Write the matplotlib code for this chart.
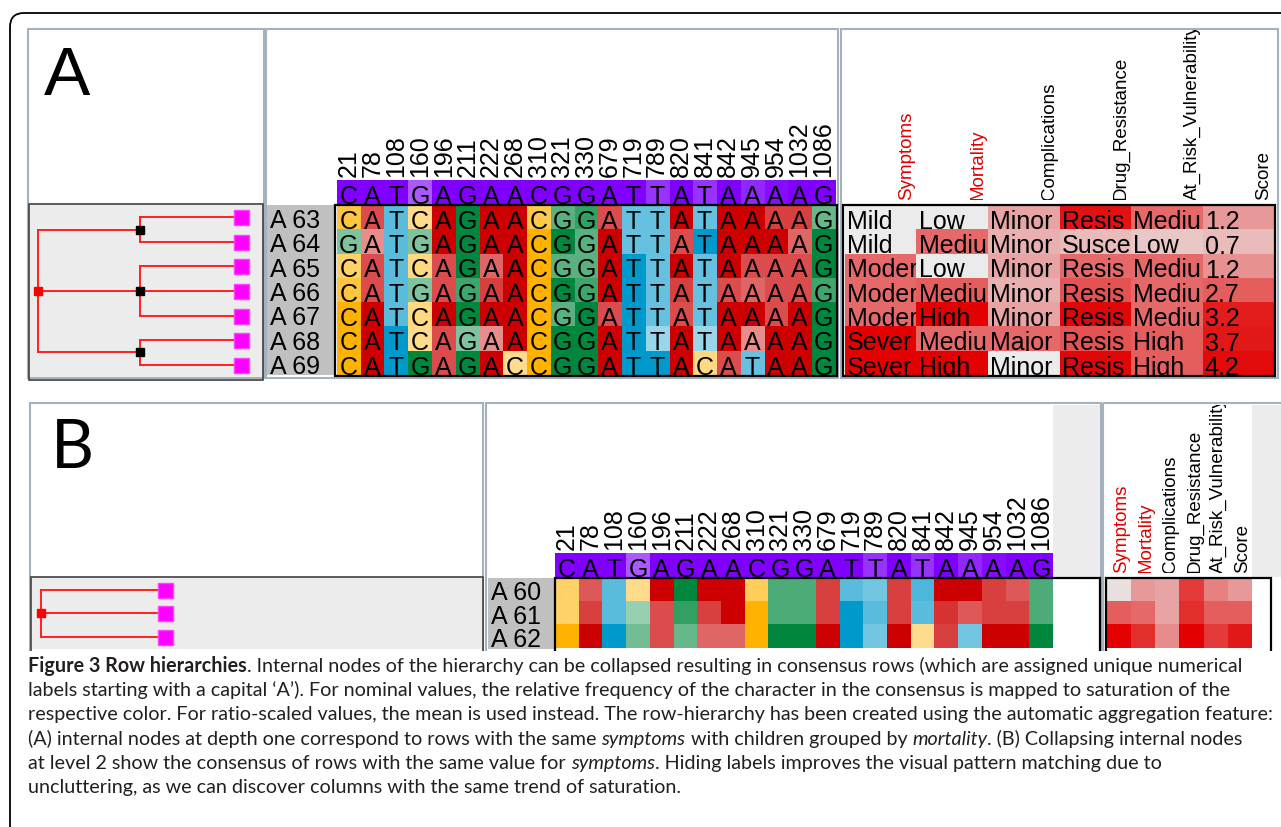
import numpy as np
import matplotlib

matplotlib.use("Agg")
import matplotlib.pyplot as plt
from matplotlib.colors import to_rgb
from matplotlib.patches import FancyBboxPatch, Rectangle

W, H = 1281, 827

# column headers (SNP positions) and the consensus sequence
positions = ["21", "78", "108", "160", "196", "211", "222", "268", "310", "321", "330",
             "679", "719", "789", "820", "841", "842", "945", "954", "1032", "1086"]
consensus_seq = "CATGAGAACGGATTATAAAAG"
consensus_sat = [1, 1, 1, 0.65, 1, 1, 1, 1, 1, 1, 1, 1, 1, 0.8, 1, 0.8, 1, 0.85, 0.95, 1, 1]

# panel A rows
rows_a = ["A 63", "A 64", "A 65", "A 66", "A 67", "A 68", "A 69"]
seq_a = [
    "CATCAGAACGGATTATAAAAG",
    "GATGAGAACGGATTATAAAAG",
    "CATCAGAACGGATTATAAAAG",
    "CATGAGAACGGATTATAAAAG",
    "CATCAGAACGGATTATAAAAG",
    "CATCAGAACGGATTATAAAAG",
    "CATGAGACCGGATTACATAAG",
]
sat_a = [
    [0.75, 0.7, 0.65, 0.45, 1, 1, 1, 1, 0.7, 0.65, 0.8, 0.7, 0.6, 0.6, 1, 0.6, 1, 1, 0.75, 0.75, 0.6],
    [0.5, 0.45, 0.65, 0.5, 1, 1, 1, 1, 1, 1, 0.65, 1, 0.6, 0.6, 0.7, 1, 1, 1, 1, 0.6, 1],
    [0.6, 0.7, 0.65, 0.5, 0.7, 1, 0.6, 1, 1, 0.65, 0.65, 1, 1, 0.6, 1, 0.6, 1, 0.7, 0.7, 0.7, 1],
    [0.75, 0.7, 0.65, 0.5, 0.7, 0.75, 0.75, 1, 1, 1, 0.75, 1, 1, 0.6, 0.75, 0.6, 0.7, 0.6, 0.7, 0.7, 0.75],
    [1, 1, 0.65, 0.5, 1, 1, 1, 1, 1, 0.65, 1, 0.7, 1, 0.6, 0.7, 0.6, 1, 1, 0.7, 1, 1],
    [1, 1, 1, 0.45, 0.7, 0.5, 0.45, 1, 1, 1, 1, 1, 1, 0.4, 1, 0.4, 1, 0.45, 1, 1, 1],
    [1, 1, 1, 1, 0.7, 1, 1, 0.45, 1, 1, 1, 1, 1, 1, 1, 0.5, 0.7, 0.6, 1, 1, 1],
]
tree_a = [[0, 1], [2, 3, 4], [5, 6]]

# panel B (collapsed consensus rows)
rows_b = ["A 60", "A 61", "A 62"]
seq_b = [
    "CATCAGAACGGATTATAAAAG",
    "CATGAGAACGGATTATAAAAG",
    "CATGAGAACGGATTACATAAG",
]
sat_b = [
    [0.6, 0.65, 0.65, 0.45, 1, 1, 1, 1, 0.65, 0.7, 0.7, 0.75, 0.65, 0.55, 0.75, 0.7, 1, 1, 0.75, 0.65, 0.7],
    [0.6, 0.75, 0.65, 0.4, 0.7, 0.8, 0.75, 1, 1, 0.7, 0.7, 0.75, 1, 0.65, 0.75, 0.65, 0.8, 0.65, 0.75, 0.75, 0.7],
    [1, 1, 1, 0.55, 0.7, 0.6, 0.6, 0.6, 1, 1, 1, 1, 1, 0.55, 1, 0.45, 0.75, 0.55, 1, 1, 1],
]
tree_b = [0, 1, 2]

# attribute table
attr_names = ["Symptoms", "Mortality", "Complications", "Drug_Resistance",
              "At_Risk_Vulnerability", "Score"]
attr_hier = ["Symptoms", "Mortality"]
attr_text_a = [
    ["Mild", "Low", "Minor", "Resis", "Mediu", "1,2"],
    ["Mild", "Mediu", "Minor", "Susce", "Low", "0,7"],
    ["Moder", "Low", "Minor", "Resis", "Mediu", "1,2"],
    ["Moder", "Mediu", "Minor", "Resis", "Mediu", "2,7"],
    ["Moder", "High", "Minor", "Resis", "Mediu", "3,2"],
    ["Sever", "Mediu", "Major", "Resis", "High", "3,7"],
    ["Sever", "High", "Minor", "Resis", "High", "4,2"],
]
attr_sat_a = [
    [0.0, 0.0, 0.3, 0.92, 0.55, 0.35],
    [0.0, 0.55, 0.25, 0.2, 0.15, 0.2],
    [0.55, 0.0, 0.3, 0.55, 0.55, 0.38],
    [0.55, 0.6, 0.25, 0.65, 0.55, 0.6],
    [0.55, 1.0, 0.3, 0.97, 0.55, 0.88],
    [1.0, 0.55, 0.55, 0.65, 0.6, 0.9],
    [1.0, 1.0, 0.0, 0.97, 0.6, 0.95],
]
attr_sat_b = [
    [0.05, 0.35, 0.3, 0.75, 0.45, 0.35],
    [0.6, 0.55, 0.3, 0.8, 0.6, 0.6],
    [1.0, 0.8, 0.4, 1.0, 0.75, 0.9],
]

caption_lines = [
    [("Figure 3 Row hierarchies", "bold"),
     (". Internal nodes of the hierarchy can be collapsed resulting in consensus rows "
      "(which are assigned unique numerical", "normal")],
    [("labels starting with a capital \u2018A\u2019). For nominal values, the relative frequency "
      "of the character in the consensus is mapped to saturation of the", "normal")],
    [("respective color. For ratio-scaled values, the mean is used instead. The row-hierarchy "
      "has been created using the automatic aggregation feature:", "normal")],
    [("(A) internal nodes at depth one correspond to rows with the same ", "normal"),
     ("symptoms", "italic"), (" with children grouped by ", "normal"),
     ("mortality", "italic"), (". (B) Collapsing internal nodes", "normal")],
    [("at level 2 show the consensus of rows with the same value for ", "normal"),
     ("symptoms", "italic"), (". Hiding labels improves the visual pattern matching due to", "normal")],
    [("uncluttering, as we can discover columns with the same trend of saturation.", "normal")],
]
# right end of each caption line in the reference (pixels)
caption_ends = [1275, 1224, 1270, 1261, 1162, 657]

NUC_BASE = {"A": "#cc0000", "C": "#ffb300", "G": "#00873d", "T": "#0099cc"}
CONS_BASE = "#7f00ff"
ATTR_LOW, ATTR_HIGH = "#ebebeb", "#e20000"
FRAME = "#a4b2c0"
RED_LINE = "#ff2020"
CELL_FS = 18

plt.rcParams["font.family"] = ["Liberation Sans", "DejaVu Sans"]


def tint(color, s):
    rgb = np.array(to_rgb(color))
    return 1.0 - s * (1.0 - rgb)


def nuc_image(seqs, sats):
    return np.array([[tint(NUC_BASE[ch], s) for ch, s in zip(seq, row)]
                     for seq, row in zip(seqs, sats)])


def attr_image(sats):
    lo = np.array(to_rgb(ATTR_LOW))
    hi = np.array(to_rgb(ATTR_HIGH))
    return np.array([[lo + s * (hi - lo) for s in row] for row in sats])


def px_axes(fig, x0, y0, x1, y1, zorder=1):
    ax = fig.add_axes((x0 / W, 1 - y1 / H, (x1 - x0) / W, (y1 - y0) / H))
    ax.set_zorder(zorder)
    return ax


def draw_cells(ax, img, texts=None, fontsize=CELL_FS, centered=True):
    n, m = img.shape[:2]
    ax.imshow(img, extent=(0, m, n, 0), aspect="auto", interpolation="nearest")
    ax.set_xlim(0, m)
    ax.set_ylim(n, 0)
    if texts is None:
        return
    for i, row in enumerate(texts):
        for j, s in enumerate(row):
            x = j + 0.5 if centered else j + 0.03
            t = ax.text(x, i + 0.98, s, ha="center" if centered else "left",
                        va="baseline", fontsize=fontsize, clip_on=True)
            t.set_clip_path(Rectangle((j, i), 1, 1, transform=ax.transData))


def draw_node(ax, node, level, depth):
    if isinstance(node, int):
        y = node + 0.5
        ax.plot([depth], [y], "s", ms=10.8, color="#ff00ff", mec="#ff40ff", zorder=4)
        return depth, y
    kids = [draw_node(ax, c, level + 1, depth) for c in node]
    ys = [y for _, y in kids]
    ax.plot([level, level], [min(ys), max(ys)], color=RED_LINE, lw=1.4, zorder=2)
    for x, y in kids:
        ax.plot([level, x], [y, y], color=RED_LINE, lw=1.4, zorder=2)
    y = float(np.mean(ys))
    color = "#ff0000" if level == 0 else "black"
    ax.plot([level], [y], "s", ms=6.2, color=color, zorder=5)
    return level, y


def tree_depth(node):
    if isinstance(node, int):
        return 0
    return 1 + max(tree_depth(c) for c in node)


def draw_dendro(ax, tree, n_rows, root_px, leaf_px, x0, x1):
    depth = tree_depth(tree)
    scale = (leaf_px - root_px) / depth
    ax.set_facecolor("#ececec")
    ax.set_xlim((x0 - root_px) / scale, (x1 - root_px) / scale)
    ax.set_ylim(n_rows, 0)
    draw_node(ax, tree, 0, depth)
    ax.set_xticks([])
    ax.set_yticks([])
    for sp in ax.spines.values():
        sp.set_visible(False)


def draw_row_labels(ax, labels):
    ax.set_facecolor("#c0c0c0")
    ax.set_xlim(0, 1)
    ax.set_ylim(len(labels), 0)
    for i, lab in enumerate(labels):
        ax.text(0.04, i + 0.95, lab, fontsize=CELL_FS, va="baseline", ha="left")
    ax.set_xticks([])
    ax.set_yticks([])
    for sp in ax.spines.values():
        sp.set_visible(False)


def draw_consensus(ax):
    img = np.array([[tint(CONS_BASE, s) for s in consensus_sat]])
    draw_cells(ax, img, [list(consensus_seq)])
    ax.set_xticks(np.arange(len(positions)) + 0.5, labels=positions, rotation=90, fontsize=18)
    ax.tick_params(axis="x", top=True, bottom=False, labeltop=True, labelbottom=False,
                   length=0, pad=2)
    ax.set_yticks([])
    for sp in ax.spines.values():
        sp.set_visible(False)


def draw_attr_header(ax, offset, fontsize):
    ax.set_xlim(0, len(attr_names))
    ax.set_ylim(0, 1)
    ax.axis("off")
    for j, name in enumerate(attr_names):
        color = "#e00000" if name in attr_hier else "black"
        ax.text(j + offset, 0, name, rotation=90, ha="center", va="bottom",
                fontsize=fontsize, color=color, clip_on=True)


def caption_props(style, fs):
    props = {"fontsize": fs, "family": ["Lato", "DejaVu Sans"]}
    if style == "bold":
        props["fontweight"] = "bold"
    elif style == "italic":
        props["fontstyle"] = "italic"
    return props


def draw_caption(fig, ax, lines, ends, x0, y0, dy, right):
    renderer = fig.canvas.get_renderer()

    def width(s, fs, style):
        t1 = ax.text(0, 0, "|" + s + "|", **caption_props(style, fs))
        t2 = ax.text(0, 0, "||", **caption_props(style, fs))
        w = t1.get_window_extent(renderer).width - t2.get_window_extent(renderer).width
        t1.remove()
        t2.remove()
        return w

    widths = [sum(width(s, 10, st) for s, st in line) for line in lines]
    base = float(np.median([10 * (end - x0) / w for w, end in zip(widths, ends)]))
    for k, line in enumerate(lines):
        # shrink a line only if it would run past the right margin
        fs = min(base, 10 * (right - x0) / widths[k])
        x = x0
        for s, st in line:
            ax.text(x, y0 + k * dy, s, ha="left", va="baseline", zorder=5,
                    color="#231f20", **caption_props(st, fs))
            x += width(s, fs, st)


def box(ax, x0, y0, x1, y1, ec, lw, fc="none", z=1):
    ax.add_patch(Rectangle((x0, y0), x1 - x0, y1 - y0, fc=fc, ec=ec, lw=lw, zorder=z))


def main():
    fig = plt.figure(figsize=(W / 100, H / 100), dpi=100)
    fig.patch.set_facecolor("white")

    bg = px_axes(fig, 0, 0, W, H, zorder=0)
    bg.set_xlim(0, W)
    bg.set_ylim(H, 0)
    bg.axis("off")

    # panel frames
    for x0, y0, x1, y1 in [(28, 29, 264, 378), (266, 29, 838, 378), (841, 29, 1278, 378),
                           (30, 403, 483, 660), (486, 403, 1101, 660), (1103, 403, 1284, 660)]:
        box(bg, x0, y0, x1, y1, FRAME, 1.5)
    bg.add_patch(Rectangle((1053, 405), 47, 172, fc="#ececec", ec="none"))
    bg.add_patch(Rectangle((1252, 405), 29, 172, fc="#ececec", ec="none"))
    bg.text(44, 95, "A", fontsize=50, va="baseline", ha="left")
    bg.text(51, 468, "B", fontsize=48, va="baseline", ha="left", family=["Lato", "DejaVu Sans"])

    # panel A
    draw_dendro(px_axes(fig, 30, 205, 263, 377), tree_a, len(rows_a), 38, 241, 30, 263)
    draw_row_labels(px_axes(fig, 267, 205, 335, 375), rows_a)
    draw_consensus(px_axes(fig, 337, 180, 835, 204))
    ax = px_axes(fig, 337, 205, 835, 375)
    draw_cells(ax, nuc_image(seq_a, sat_a), seq_a)
    ax.axis("off")
    draw_attr_header(px_axes(fig, 845, 30, 1274, 200), 0.855, 13.5)
    ax = px_axes(fig, 845, 205, 1274, 375)
    draw_cells(ax, attr_image(attr_sat_a), attr_text_a, centered=False)
    ax.axis("off")

    # panel B
    draw_dendro(px_axes(fig, 32, 578, 483, 648.5), tree_b, len(rows_b), 41, 165, 32, 483)
    draw_row_labels(px_axes(fig, 488, 578, 555, 648.5), rows_b)
    draw_consensus(px_axes(fig, 555, 553, 1053, 577))
    ax = px_axes(fig, 555, 578, 1053, 648.5)
    draw_cells(ax, nuc_image(seq_b, sat_b))
    ax.axis("off")
    draw_attr_header(px_axes(fig, 1107, 405, 1252, 573), 0.62, 13.5)
    ax = px_axes(fig, 1107, 578, 1252, 648.5)
    draw_cells(ax, attr_image(attr_sat_b))
    ax.axis("off")

    # overlay: matrix borders, caption mask, caption text, outer frame
    ov = px_axes(fig, 0, 0, W, H, zorder=10)
    ov.set_xlim(0, W)
    ov.set_ylim(H, 0)
    ov.axis("off")
    for x0, y0, x1, y1 in [(335, 205, 837, 376), (843, 205, 1275, 376),
                           (555, 578, 1100, 660), (1106, 578, 1271, 660)]:
        box(ov, x0, y0, x1, y1, "black", 1.6)
    for x0, y0, x1, y1 in [(29, 204, 263, 380), (31, 577, 483, 660)]:
        box(ov, x0, y0, x1, y1, "#404040", 1.2)
    ov.add_patch(Rectangle((11, 651), W, H, fc="white", ec="none", zorder=3))
    draw_caption(fig, ov, caption_lines, caption_ends, 28, 672, 24.2, 1277)
    ov.add_patch(FancyBboxPatch((10, 13), 1320, 840, boxstyle="round,pad=0,rounding_size=14",
                                fc="none", ec="black", lw=1.3, zorder=6))

    fig.savefig("out.png", dpi=100)
    plt.close(fig)


if __name__ == "__main__":
    main()
